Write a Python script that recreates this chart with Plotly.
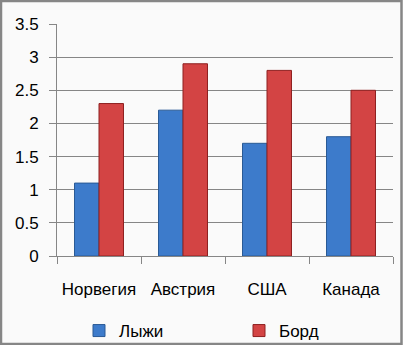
import plotly.graph_objects as go

categories = ["Норвегия", "Австрия", "США", "Канада"]
ski = [1.1, 2.2, 1.7, 1.8]
board = [2.3, 2.9, 2.8, 2.5]
series_names = ["Лыжи", "Борд"]
y_ticks = [0, 0.5, 1, 1.5, 2, 2.5, 3, 3.5]
y_tick_labels = ["0", "0.5", "1", "1.5", "2", "2.5", "3", "3.5"]

W, H = 403, 345
L, R, T, B = 57, 10, 24, 89
pw, ph = W - L - R, H - T - B
grid = "#868686"
font = dict(family="Liberation Sans, Arial, sans-serif", size=17, color="#000000")

fig = go.Figure()
fig.add_bar(x=categories, y=ski, name=series_names[0], legend="legend",
            marker=dict(color="#3D7BCB", line=dict(color="#2A5A95", width=1)))
fig.add_bar(x=categories, y=board, name=series_names[1], legend="legend2",
            marker=dict(color="#D34444", line=dict(color="#8E2020", width=1)))

leg_common = dict(orientation="h", xref="container", yref="container",
                  xanchor="left", yanchor="middle", y=(H - 331) / H,
                  bgcolor="rgba(0,0,0,0)", font=font, itemwidth=30)

fig.update_layout(
    width=W, height=H,
    margin=dict(l=L, r=R, t=T, b=B, pad=0, autoexpand=False),
    paper_bgcolor="#FAFAFA", plot_bgcolor="#FAFAFA",
    font=font,
    barmode="group", bargap=0.417, bargroupgap=0,
    showlegend=True,
    legend=dict(x=79 / W, **leg_common),
    legend2=dict(x=239 / W, **leg_common),
    xaxis=dict(showgrid=False, showline=True, linecolor=grid, linewidth=1,
               ticks="outside", tickson="boundaries", ticklen=7, tickcolor=grid,
               ticklabelstandoff=18, tickfont=font, zeroline=False),
    yaxis=dict(range=[0, 3.5], tickvals=y_ticks, ticktext=y_tick_labels,
               showgrid=True, gridcolor=grid, gridwidth=1,
               showline=True, linecolor=grid, linewidth=1,
               ticks="outside", ticklen=7, tickcolor=grid,
               ticklabelstandoff=7, tickfont=font, zeroline=False),
    shapes=[dict(type="rect", xref="paper", yref="paper",
                 x0=(1 - L) / pw, x1=(W - 1.5 - L) / pw,
                 y0=-(B - 1) / ph, y1=1 + (T - 1) / ph,
                 line=dict(color="#868686", width=2.5), fillcolor="rgba(0,0,0,0)",
                 layer="above")],
)

fig.write_html("out.html")
